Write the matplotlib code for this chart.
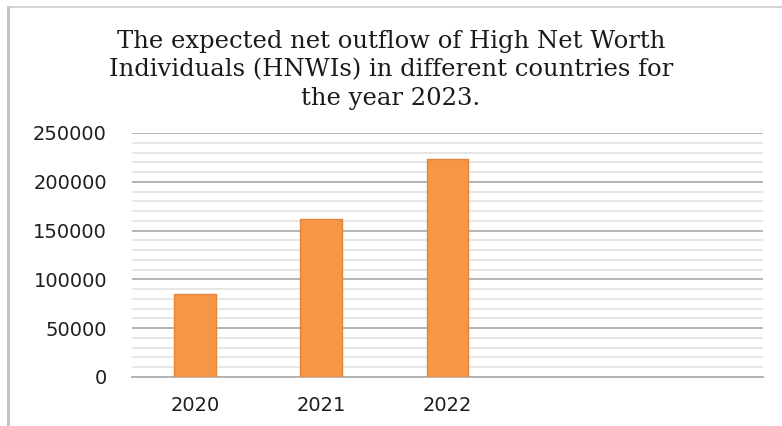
import matplotlib.pyplot as plt
from matplotlib.lines import Line2D
import numpy as np

years = ['2020', '2021', '2022', '', '']
outflow = [85000, 162000, 223500, 0, 0]
title = ('The expected net outflow of High Net Worth\n'
         'Individuals (HNWIs) in different countries for\n'
         'the year 2023.')

W, H = 782, 426
fig = plt.figure(figsize=(W / 100, H / 100), dpi=100)
ax = fig.add_axes([132 / W, 1 - 377 / H, (763 - 132) / W, (377 - 133) / H])

x = np.arange(len(years))
shown = [v if lab else np.nan for v, lab in zip(outflow, years)]
ax.bar(x, shown, width=0.33, color='#f79646', edgecolor='#e3843c', linewidth=1, zorder=3)

ax.set_xlim(-0.5, len(years) - 0.5)
ax.set_ylim(0, 250000)
ax.set_yticks(np.arange(0, 250001, 50000))
ax.set_yticks(np.arange(0, 250001, 10000), minor=True)
ax.set_xticks(x)
ax.set_xticklabels(years)

ax.grid(axis='y', which='major', color='#b4b4b4', linewidth=1.4, zorder=1)
ax.grid(axis='y', which='minor', color='#e6e6e6', linewidth=1.4, zorder=0)
ax.tick_params(which='both', length=0)
ax.tick_params(axis='y', pad=18, labelsize=14, colors='#1e1e1e')
ax.tick_params(axis='x', pad=14, labelsize=14, colors='#1e1e1e')
for s in ['top', 'right', 'left']:
    ax.spines[s].set_visible(False)
ax.spines['bottom'].set_color('#b4b4b4')
ax.spines['bottom'].set_linewidth(1.4)

fig.text(0.5, 1 - 70 / H, title, ha='center', va='center', fontsize=17.5,
         family='DejaVu Serif', color='#1a1a1a', linespacing=1.3)

# frame around the chart (only left and top edges are visible)
fig.add_artist(Line2D([8 / W, 8 / W], [0, 1 - 7 / H], color='#c4c4c4', linewidth=2.2,
                      transform=fig.transFigure))
fig.add_artist(Line2D([8 / W, 1], [1 - 7 / H, 1 - 7 / H], color='#cccccc', linewidth=1.2,
                      transform=fig.transFigure))

fig.savefig('out.png', dpi=100, facecolor='white')
